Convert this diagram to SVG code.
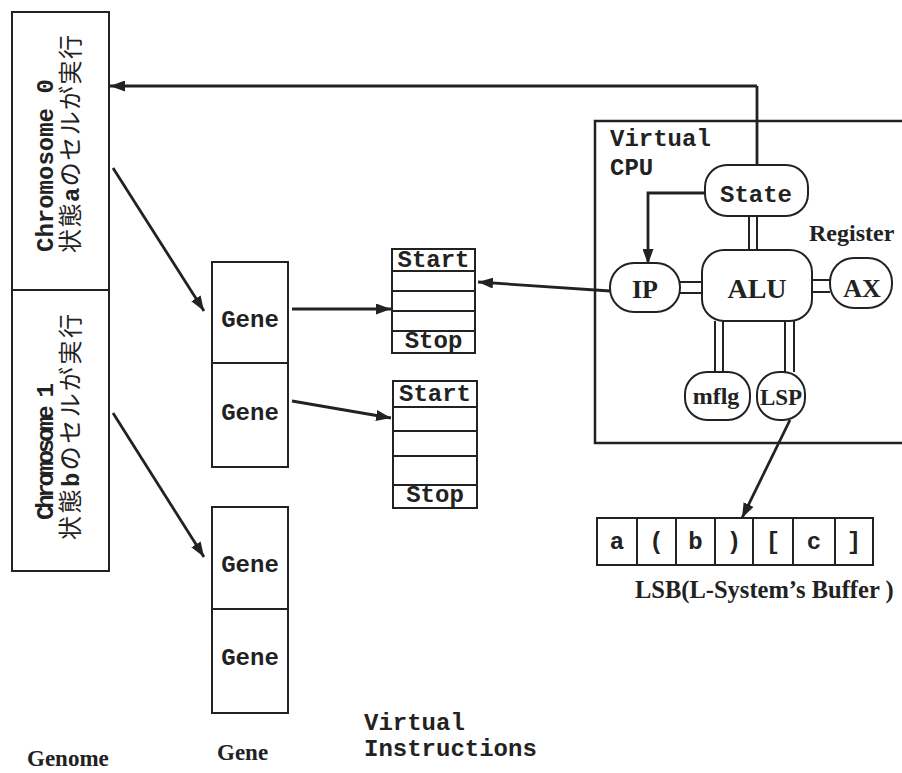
<svg xmlns="http://www.w3.org/2000/svg" width="902" height="773" viewBox="0 0 902 773">
<style>
.box{fill:#fff;stroke:#222;stroke-width:2}
.ln{stroke:#222;stroke-width:2;fill:none}
.mono{font-family:"Liberation Mono","Courier New",monospace;font-weight:bold;font-size:24px;fill:#222}
.serif{font-family:"Liberation Serif","Times New Roman",serif;font-weight:bold;fill:#222}
.jp{font-family:"Noto Sans CJK JP","Noto Sans CJK SC",sans-serif;font-weight:normal;font-size:24px;fill:#222}
.conn{stroke:#222;stroke-width:2.8;fill:none}
.dbl{stroke:#222;stroke-width:2}
.mid{text-anchor:middle}
</style>
<defs>
<marker id="ah" markerUnits="userSpaceOnUse" markerWidth="15" markerHeight="11" refX="15" refY="5.5" orient="auto">
<path d="M0,0 L15,5.5 L0,11 z" fill="#222"/>
</marker>
</defs>
<rect width="902" height="773" fill="#fff"/>

<g id="genome">
<rect class="box" x="12" y="12" width="97" height="559"/>
<line class="ln" x1="12" y1="290" x2="109" y2="290"/>
<g id="chromosome0">
<text class="mono" font-size="23" transform="translate(53,252) rotate(-90)">Chromosome 0</text>
<text class="jp" transform="translate(79,253) rotate(-90)" textLength="218" lengthAdjust="spacing">状態<tspan class="mono">a</tspan>のセルが実行</text>
</g>
<g id="chromosome1">
<text class="mono" font-size="21" transform="translate(53,520) rotate(-90)" textLength="137" lengthAdjust="spacing">Chromosome 1</text>
<text class="jp" transform="translate(79,540) rotate(-90)" textLength="226" lengthAdjust="spacing">状態<tspan class="mono">b</tspan>のセルが実行</text>
</g>
</g>

<g id="genes-a">
<rect class="box" x="212" y="262" width="76" height="205"/>
<line class="ln" x1="212" y1="363" x2="288" y2="363"/>
<text class="mono mid" x="250" y="327">Gene</text>
<text class="mono mid" x="250" y="420">Gene</text>
</g>
<g id="genes-b">
<rect class="box" x="212" y="507" width="76" height="206"/>
<line class="ln" x1="212" y1="609" x2="288" y2="609"/>
<text class="mono mid" x="250" y="572">Gene</text>
<text class="mono mid" x="250" y="665">Gene</text>
</g>

<g id="instr1">
<rect class="box" x="392" y="249" width="83" height="104"/>
<line class="ln" x1="392" y1="271" x2="475" y2="271"/>
<line class="ln" x1="392" y1="291" x2="475" y2="291"/>
<line class="ln" x1="392" y1="311" x2="475" y2="311"/>
<line class="ln" x1="392" y1="331" x2="475" y2="331"/>
<text class="mono mid" x="433.5" y="267">Start</text>
<text class="mono mid" x="433.5" y="348">Stop</text>
</g>
<g id="instr2">
<rect class="box" x="393" y="381" width="84" height="127"/>
<line class="ln" x1="393" y1="407" x2="477" y2="407"/>
<line class="ln" x1="393" y1="431" x2="477" y2="431"/>
<line class="ln" x1="393" y1="456" x2="477" y2="456"/>
<line class="ln" x1="393" y1="485" x2="477" y2="485"/>
<text class="mono mid" x="435" y="401">Start</text>
<text class="mono mid" x="435" y="502">Stop</text>
</g>

<g id="cpu">
<path d="M902,121 H595 V443 H902" fill="none" stroke="#222" stroke-width="2.5"/>
<text class="mono" x="610" y="146">Virtual</text>
<text class="mono" x="610" y="175">CPU</text>
<text class="serif" font-size="24" x="809" y="241">Register</text>
</g>

<g id="connectors">
<line class="conn" x1="757" y1="165" x2="757" y2="86"/>
<line class="conn" x1="757" y1="86" x2="110" y2="86" marker-end="url(#ah)"/>
<line class="conn" x1="113" y1="168" x2="204" y2="311" marker-end="url(#ah)"/>
<line class="conn" x1="113" y1="413" x2="204" y2="557" marker-end="url(#ah)"/>
<line class="conn" x1="292" y1="309" x2="391" y2="309" marker-end="url(#ah)"/>
<line class="conn" x1="292" y1="401" x2="391" y2="418" marker-end="url(#ah)"/>
<line class="conn" x1="610" y1="291" x2="478" y2="282" marker-end="url(#ah)"/>
<path class="conn" d="M705,193 H648 V264" marker-end="url(#ah)"/>
<line class="conn" x1="790" y1="420" x2="742" y2="518" marker-end="url(#ah)"/>
<line class="dbl" x1="749" y1="216" x2="749" y2="250"/>
<line class="dbl" x1="757" y1="216" x2="757" y2="250"/>
<line class="dbl" x1="680" y1="282" x2="702" y2="282"/>
<line class="dbl" x1="680" y1="293" x2="702" y2="293"/>
<line class="dbl" x1="812" y1="280" x2="830" y2="280"/>
<line class="dbl" x1="812" y1="292" x2="830" y2="292"/>
<line class="dbl" x1="715" y1="321" x2="715" y2="372"/>
<line class="dbl" x1="723" y1="321" x2="723" y2="372"/>
<line class="dbl" x1="785" y1="321" x2="785" y2="372"/>
<line class="dbl" x1="794" y1="321" x2="794" y2="372"/>
</g>

<g id="state">
<rect class="box" x="705" y="165" width="103" height="51" rx="22"/>
<text class="mono mid" x="756" y="202">State</text>
</g>
<g id="alu">
<rect class="box" x="702" y="250" width="110" height="71" rx="22"/>
<text class="serif mid" font-size="28" x="757" y="298">ALU</text>
</g>
<g id="ip">
<rect class="box" x="610" y="263" width="70" height="49" rx="24"/>
<text class="serif mid" font-size="26" x="645" y="298">IP</text>
</g>
<g id="ax">
<rect class="box" x="830" y="258" width="62" height="50" rx="24"/>
<text class="serif mid" font-size="26" x="862" y="297">AX</text>
</g>
<g id="mflg">
<rect class="box" x="685" y="372" width="65" height="48" rx="22"/>
<text class="serif mid" font-size="24" x="716" y="404">mflg</text>
</g>
<g id="lsp">
<rect class="box" x="757" y="372" width="48" height="48" rx="22"/>
<text class="serif mid" font-size="23" x="781" y="405">LSP</text>
</g>

<g id="lsb">
<rect class="box" x="597" y="518" width="276" height="47"/>
<line class="ln" x1="637" y1="518" x2="637" y2="565"/>
<line class="ln" x1="676" y1="518" x2="676" y2="565"/>
<line class="ln" x1="715" y1="518" x2="715" y2="565"/>
<line class="ln" x1="753" y1="518" x2="753" y2="565"/>
<line class="ln" x1="793" y1="518" x2="793" y2="565"/>
<line class="ln" x1="835" y1="518" x2="835" y2="565"/>
<text class="mono mid" x="617" y="549">a</text>
<text class="mono mid" x="656.5" y="549">(</text>
<text class="mono mid" x="695.5" y="549">b</text>
<text class="mono mid" x="734" y="549">)</text>
<text class="mono mid" x="773" y="549">[</text>
<text class="mono mid" x="814" y="549">c</text>
<text class="mono mid" x="854" y="549">]</text>
<text class="serif" font-size="24.5" x="635" y="598">LSB(L-System’s Buffer )</text>
</g>

<g id="labels">
<text class="serif" font-size="23" x="27" y="766">Genome</text>
<text class="serif" font-size="23" x="217" y="760">Gene</text>
<text class="mono" x="364" y="730">Virtual</text>
<text class="mono" x="364" y="756">Instructions</text>
</g>
</svg>
